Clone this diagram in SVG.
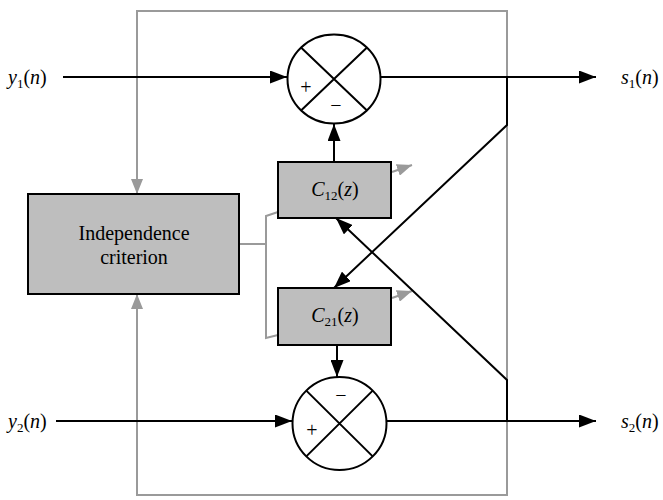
<svg xmlns="http://www.w3.org/2000/svg" width="663" height="500" viewBox="0 0 663 500">
<defs>
<marker id="ab" markerUnits="userSpaceOnUse" markerWidth="17" markerHeight="13" refX="17" refY="6.5" orient="auto"><path d="M0,0 L17,6.5 L0,13 z" fill="#000"/></marker>
<marker id="ag" markerUnits="userSpaceOnUse" markerWidth="15" markerHeight="12" refX="15" refY="6" orient="auto"><path d="M0,0 L15,6 L0,12 z" fill="#9a9a9a"/></marker>
<style>
.g{fill:none;stroke:#9a9a9a;stroke-width:2}
.b{fill:none;stroke:#000;stroke-width:2}
.box{fill:#bebebe;stroke:#000;stroke-width:2}
.sum{fill:#fff;stroke:#000;stroke-width:2}
text{font-family:'Liberation Serif','Times New Roman','DejaVu Serif',serif;fill:#000}
.t{font-size:20px}
.i{font-style:italic}
.s{font-size:13px}
.pm{font-size:20px}
</style>
</defs>
<g id="connectors">
<path class="g" d="M507,253 L507,11 L137,11 L137,194" marker-end="url(#ag)"/>
<path class="g" d="M507,253 L507,495 L137,495 L137,294" marker-end="url(#ag)"/>
<path class="g" d="M239,244 L266,244"/>
<path class="g" d="M278,212 L266,216 L266,338 L278,335"/>
<path class="g" d="M392,172 L412,165" marker-end="url(#ag)"/>
<path class="g" d="M392,298 L412,291" marker-end="url(#ag)"/>
<path class="b" d="M63,77 L287,77" marker-end="url(#ab)"/>
<path class="b" d="M380,77 L596,77" marker-end="url(#ab)"/>
<path class="b" d="M56,421 L292,421" marker-end="url(#ab)"/>
<path class="b" d="M386,421 L596,421" marker-end="url(#ab)"/>
<path class="b" d="M334,162 L334,124" marker-end="url(#ab)"/>
<path class="b" d="M337,345 L337,377" marker-end="url(#ab)"/>
<path class="b" d="M507,77 L507,125 L334,288" marker-end="url(#ab)"/>
<path class="b" d="M507,421 L507,380 L336,218" marker-end="url(#ab)"/>
</g>
<g id="sum1">
<ellipse class="sum" cx="334" cy="79" rx="46.5" ry="44.5"/>
<path class="b" d="M301,47.5 L367,110.5 M367,47.5 L301,110.5"/>
<text class="pm" x="306" y="94" text-anchor="middle">+</text>
<text class="pm" x="336" y="112" text-anchor="middle">−</text>
</g>
<g id="sum2">
<ellipse class="sum" cx="339.5" cy="423.5" rx="47" ry="46.5"/>
<path class="b" d="M306.3,390.6 L372.7,456.4 M372.7,390.6 L306.3,456.4"/>
<text class="pm" x="341" y="402" text-anchor="middle">−</text>
<text class="pm" x="312" y="437" text-anchor="middle">+</text>
</g>
<g id="c12">
<rect class="box" x="278" y="162" width="113" height="56"/>
<text class="t" x="335" y="196" text-anchor="middle"><tspan class="i">C</tspan><tspan class="s" dy="4">12</tspan><tspan dy="-4">(</tspan><tspan class="i">z</tspan>)</text>
</g>
<g id="c21">
<rect class="box" x="278" y="288" width="113" height="57"/>
<text class="t" x="335" y="322" text-anchor="middle"><tspan class="i">C</tspan><tspan class="s" dy="4">21</tspan><tspan dy="-4">(</tspan><tspan class="i">z</tspan>)</text>
</g>
<g id="indep">
<rect class="box" x="28" y="194" width="211" height="100"/>
<text class="t" x="134" y="240" text-anchor="middle">Independence</text>
<text class="t" x="134" y="264" text-anchor="middle">criterion</text>
</g>
<g id="labels">
<text class="t" x="8" y="84"><tspan class="i">y</tspan><tspan class="s" dy="4">1</tspan><tspan dy="-4">(</tspan><tspan class="i">n</tspan>)</text>
<text class="t" x="8" y="428"><tspan class="i">y</tspan><tspan class="s" dy="4">2</tspan><tspan dy="-4">(</tspan><tspan class="i">n</tspan>)</text>
<text class="t" x="621" y="84"><tspan class="i">s</tspan><tspan class="s" dy="4">1</tspan><tspan dy="-4">(</tspan><tspan class="i">n</tspan>)</text>
<text class="t" x="621" y="428"><tspan class="i">s</tspan><tspan class="s" dy="4">2</tspan><tspan dy="-4">(</tspan><tspan class="i">n</tspan>)</text>
</g>
</svg>
